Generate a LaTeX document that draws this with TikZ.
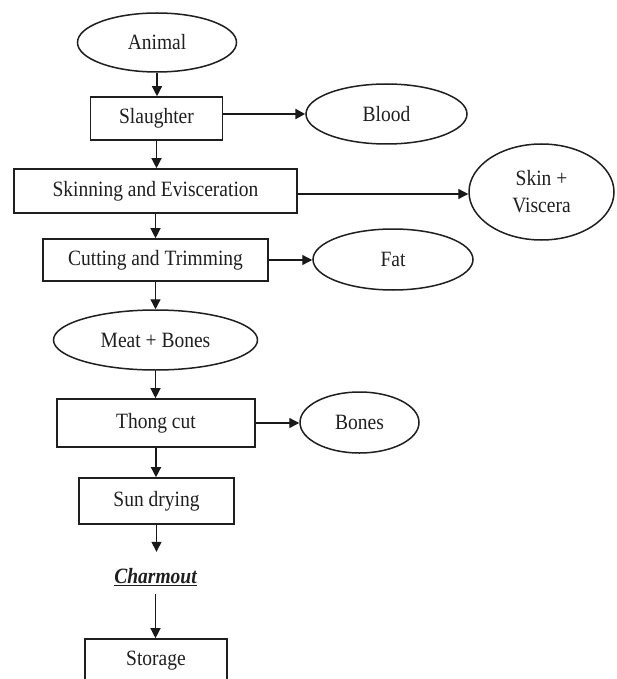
\documentclass[tikz,border=0pt]{standalone}
\usepackage{fontspec}
\usepackage{graphicx}
\setmainfont{Liberation Serif}
\usetikzlibrary{shapes.geometric,arrows.meta,calc}
\newcommand{\vtx}[1]{\scalebox{1}[1.12]{#1}}
\begin{document}
\begin{tikzpicture}[x=1pt,y=-1pt,
  every node/.style={font=\fontsize{19.5}{22}\selectfont, text=black!88},
  procbox/.style={draw=black!88, line width=1.6pt, rectangle, inner sep=0pt},
  prodell/.style={draw=black!88, line width=1.5pt, ellipse, inner sep=0pt},
  flow/.style={draw=black!90, line width=1.3pt, -{Triangle[length=10pt,width=10pt]}},
  thickflow/.style={draw=black!90, line width=2.2pt, -{Triangle[length=10pt,width=10pt]}}]
\clip (0,0) rectangle (616,679);
\useasboundingbox (0,0) rectangle (616,679);
\fill[white] (0,0) rectangle (616,679);

\node[prodell, minimum width=159pt, minimum height=59pt] (animal) at (157,42.5) {\vtx{Animal}};
\node[procbox, minimum width=132pt, minimum height=43pt] (slaughter) at (156.5,118.5) {\vtx{Slaughter}};
\node[prodell, minimum width=161pt, minimum height=60pt] (blood) at (386.5,114) {\vtx{Blood}};
\node[procbox, minimum width=283pt, minimum height=44pt] (skin) at (155.5,191) {\vtx{Skinning and Evisceration}};
\node[prodell, minimum width=145pt, minimum height=96pt, align=center] (skinv) at (541.5,192) {\vtx{Skin +}\\[5pt]\vtx{Viscera}};
\node[procbox, minimum width=225pt, minimum height=42pt] (cutting) at (155.5,260) {\vtx{Cutting and Trimming}};
\node[prodell, minimum width=160pt, minimum height=61pt] (fat) at (393,259.5) {\vtx{Fat}};
\node[prodell, minimum width=204pt, minimum height=60pt] (meat) at (155.5,340) {\vtx{Meat + Bones}};
\node[procbox, minimum width=198pt, minimum height=48pt] (thong) at (156,423) {\vtx{Thong cut}};
\node[prodell, minimum width=119pt, minimum height=61pt] (bones) at (359.5,422.5) {\vtx{Bones}};
\node[procbox, minimum width=155pt, minimum height=46pt] (sun) at (156.5,501) {\vtx{Sun drying}};
\node[inner sep=0pt, minimum height=50pt] (charm) at (155.5,577) {\vtx{\bfseries\itshape\underline{Charmout}}};
\node[procbox, minimum width=142pt, minimum height=44pt] (storage) at (156,661) {\vtx{Storage}};

\draw[flow] (animal.south) -- (animal.south |- slaughter.north);
\draw[thickflow] (slaughter.east |- blood.west) -- (blood.west);
\draw[flow] (slaughter.south) -- (slaughter.south |- skin.north);
\draw[flow] ([yshift=-3pt]skin.east) -- ([yshift=-3pt]skin.east -| skinv.west);
\draw[flow] (skin.south) -- (skin.south |- cutting.north);
\draw[flow] (cutting.east) -- (cutting.east -| fat.west);
\draw[flow] (cutting.south) -- (cutting.south |- meat.north);
\draw[flow] (meat.south) -- (meat.south |- thong.north);
\draw[flow] (thong.east) -- (thong.east -| bones.west);
\draw[flow] (thong.south) -- (thong.south |- sun.north);
\draw[flow] (sun.south) -- (sun.south |- charm.north);
\coordinate (ctail) at ([yshift=8pt]charm.south);
\draw[flow] (ctail) -- (ctail |- storage.north);
\end{tikzpicture}
\end{document}
